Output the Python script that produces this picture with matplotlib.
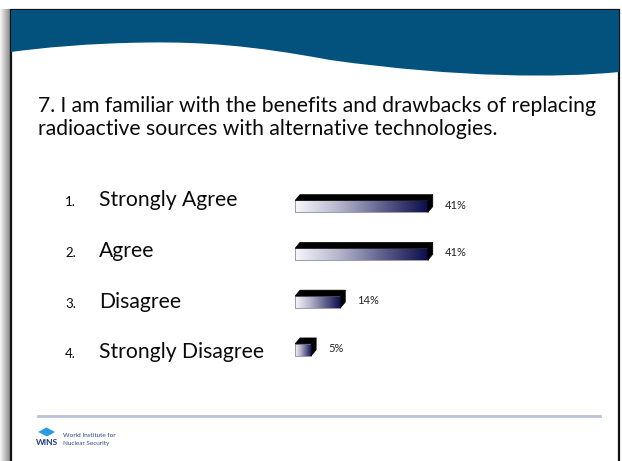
import numpy as np
import matplotlib
matplotlib.use("Agg")
from matplotlib import pyplot as plt
from matplotlib.path import Path
from matplotlib.patches import PathPatch, Polygon, Rectangle
from matplotlib.colors import LinearSegmentedColormap

plt.rcParams['font.family'] = ['Lato', 'DejaVu Sans']

question = ["7. I am familiar with the benefits and drawbacks of replacing",
            "radioactive sources with alternative technologies."]
numbers = ["1.", "2.", "3.", "4."]
answers = ["Strongly Agree", "Agree", "Disagree", "Strongly Disagree"]
percent = [41, 41, 14, 5]

W, H = 622, 461
fig = plt.figure(figsize=(W / 100, H / 100), dpi=100)

# page layer in pixel coordinates
bg = fig.add_axes([0, 0, 1, 1])
bg.set_xlim(0, W)
bg.set_ylim(H, 0)
bg.axis('off')

# grey drop shadow on the left of the slide
shade = np.linspace(0.97, 0.55, 40).reshape(1, -1)
bg.imshow(shade, cmap='gray', vmin=0, vmax=1, extent=[0, 10, H, 10],
          aspect='auto', interpolation='bicubic', zorder=0)
bg.set_xlim(0, W)
bg.set_ylim(H, 0)

bg.add_patch(Rectangle((11, 10), 608, 470, facecolor='white',
                       edgecolor='#111111', lw=1.6, zorder=1))

# header wave
verts = [(11, 10), (619, 10), (619, 72),
         (560, 78), (460, 78), (330, 60),
         (250, 45), (200, 42), (150, 42.5),
         (90, 43), (40, 48), (11, 52),
         (11, 10)]
codes = [Path.MOVETO, Path.LINETO, Path.LINETO,
         Path.CURVE4, Path.CURVE4, Path.CURVE4,
         Path.CURVE4, Path.CURVE4, Path.CURVE4,
         Path.CURVE4, Path.CURVE4, Path.CURVE4,
         Path.CLOSEPOLY]
bg.add_patch(PathPatch(Path(verts, codes), facecolor='#02527d',
                       edgecolor='none', zorder=2))

# question text
bg.text(38, 112, question[0], fontsize=15.2, color='#0a0a0a', va='baseline', zorder=3)
bg.text(38, 135, question[1], fontsize=15.2, color='#0a0a0a', va='baseline', zorder=3)

# answer list
base = [206, 257, 308, 358]
for i in range(4):
    bg.text(65, base[i], numbers[i], fontsize=9.5, color='#0a0a0a', va='baseline', zorder=3)
    bg.text(99, base[i], answers[i], fontsize=15.2, color='#0a0a0a', va='baseline', zorder=3)

# footer rule and logo
bg.plot([38, 600], [416, 416], color='#b9c3d6', lw=2, zorder=3)
bg.add_patch(Polygon([(38, 432), (46.5, 427.5), (55, 432), (47, 436.5)],
                     facecolor='#2b9ae0', edgecolor='none', zorder=3))
bg.text(46.5, 442, "WINS", fontsize=6, fontweight='bold', color='#1d3f7a',
        ha='center', va='center', zorder=3)
bg.text(63, 437, "World Institute for", fontsize=4.6, color='#2a4a86', va='baseline', zorder=3)
bg.text(63, 444.5, "Nuclear Security", fontsize=4.6, color='#2a4a86', va='baseline', zorder=3)

# bar chart: x in percent, 0% sits at pixel 295, 3.24 px per percent
px_per_pct = 3.24
pitch = 47.8
x0, y_top = 295, 206.5 - 0.5 * pitch
ax = fig.add_axes([x0 / W, 1 - (y_top + 4 * pitch) / H,
                   100 * px_per_pct / W, 4 * pitch / H])
ax.set_xlim(0, 100)
ax.set_ylim(3.5, -0.5)
ax.axis('off')
ax.patch.set_alpha(0)

cmap = LinearSegmentedColormap.from_list(
    'face', ['#f7f7fb', '#b4b4cc', '#5e5e8c', '#0c0c4c'])
grad = np.linspace(0, 1, 256).reshape(1, -1)

h = 12 / pitch
dx = 5 / px_per_pct
dy = 6 / pitch
for i, v in enumerate(percent):
    top, bot = i - h / 2, i + h / 2
    ax.imshow(grad, cmap=cmap, extent=[0, v, bot, top], aspect='auto',
              interpolation='bicubic', zorder=2)
    ax.add_patch(Rectangle((0, top), v, h, facecolor='none',
                           edgecolor='#8a8a9a', lw=0.6, zorder=3))
    ax.add_patch(Polygon([(0, top), (v, top), (v + dx, top - dy), (dx, top - dy)],
                         closed=True, facecolor='black', edgecolor='black', lw=0.4, zorder=3))
    ax.add_patch(Polygon([(v, top), (v + dx, top - dy), (v + dx, bot - dy), (v, bot)],
                         closed=True, facecolor='black', edgecolor='black', lw=0.4, zorder=3))
    ax.text(v + 5.2, i - 0.03, f"{v}%", fontsize=8, color='#222222',
            va='center', ha='left', zorder=4)

ax.set_xlim(0, 100)
ax.set_ylim(3.5, -0.5)

fig.savefig('out.png', dpi=100)
